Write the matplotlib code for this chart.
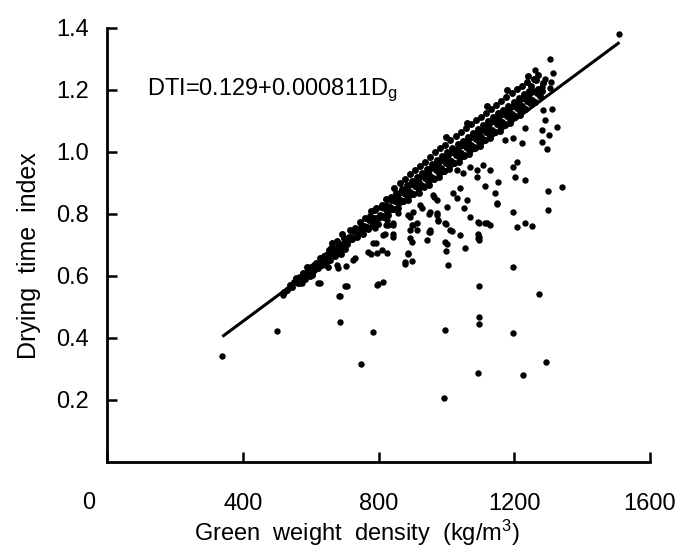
import matplotlib
matplotlib.use("Agg")
import matplotlib.pyplot as plt
from matplotlib.transforms import ScaledTranslation

plt.rcParams['font.family'] = ['Liberation Sans', 'DejaVu Sans']
plt.rcParams['mathtext.default'] = 'regular'

# ---- data ----
# dense band of points hugging the regression line (density, DTI)
band_pts = [
    (521, .549), (529, .556), (539, .571), (546, .563), (552, .581),
    (557, .593), (562, .577), (568, .598), (570, .598), (578, .609), (582, .591),
    (585, .609), (593, .618), (597, .601), (588, .628), (600, .629), (606, .615), (611, .637), (603, .604),
    (617, .643), (622, .625), (627, .659), (614, .621), (630, .654), (639, .665), (641, .643), (633, .634),
    (645, .668), (653, .684), (656, .652), (648, .648), (659, .689), (662, .674), (668, .687), (671, .663), (663, .705),
    (675, .691), (684, .700), (686, .678), (678, .713), (689, .671), (692, .703), (697, .721), (702, .687), (693, .734),
    (707, .715), (713, .727), (716, .749), (708, .702), (719, .725), (722, .722), (728, .745), (731, .755), (723, .718),
    (737, .738), (741, .749), (746, .774), (738, .725), (749, .757), (750, .751), (758, .762), (761, .786), (753, .737),
    (767, .757), (771, .781), (776, .793), (768, .753), (779, .809), (782, .775), (788, .787), (791, .812), (783, .762), (793, .818),
    (795, .788), (803, .797), (806, .822), (798, .769), (809, .830), (812, .795), (816, .818), (821, .828), (813, .791), (823, .849),
    (825, .811), (833, .822), (836, .846), (828, .797), (838, .856),
    (842, .817), (848, .841), (851, .853), (843, .815), (853, .868), (847, .884),
    (857, .835), (861, .847), (866, .871), (858, .819), (868, .882), (862, .899),
    (872, .842), (878, .865), (881, .877), (873, .841), (883, .895), (877, .914),
    (887, .858), (893, .872), (896, .896), (888, .845), (898, .907), (892, .929),
    (902, .865), (908, .891), (911, .903), (903, .863), (913, .920), (907, .942),
    (917, .883), (921, .897), (926, .921), (918, .869), (928, .933), (922, .956),
    (932, .889), (938, .915), (941, .928), (933, .888), (943, .946), (937, .969),
    (947, .908), (953, .922), (956, .948), (948, .895), (958, .960), (952, .984),
    (962, .915), (968, .941), (971, .955), (963, .913), (973, .973), (967, .999),
    (977, .933), (983, .947), (986, .974), (978, .919), (988, .987), (982, 1.012),
    (992, .939), (998, .965), (1001, .980), (993, .938), (1003, .999), (997, 1.024),
    (1007, .958), (1013, .972), (1016, .999), (1008, .945), (1018, 1.012), (1012, 1.039),
    (1022, .965), (1028, .991), (1031, 1.005), (1023, .963), (1033, 1.026), (1027, 1.052),
    (1037, .983), (1043, .997), (1046, 1.024), (1038, .969), (1048, 1.037), (1042, 1.064),
    (1052, .989), (1058, 1.015), (1061, 1.030), (1053, .988), (1063, 1.049), (1057, 1.076),
    (1067, 1.008), (1073, 1.022), (1076, 1.049), (1068, .995), (1078, 1.062), (1072, 1.089),
    (1082, 1.015), (1088, 1.041), (1091, 1.055), (1083, 1.013), (1093, 1.075), (1087, 1.102),
    (1097, 1.033), (1103, 1.047), (1106, 1.074), (1098, 1.019), (1108, 1.087), (1102, 1.114),
    (1112, 1.039), (1118, 1.065), (1121, 1.080), (1113, 1.038), (1123, 1.099), (1117, 1.126),
    (1127, 1.058), (1133, 1.072), (1136, 1.099), (1128, 1.045), (1138, 1.112), (1132, 1.139),
    (1142, 1.065), (1148, 1.091), (1151, 1.105), (1143, 1.063), (1153, 1.125), (1147, 1.152),
    (1157, 1.083), (1163, 1.097), (1166, 1.124), (1158, 1.069), (1168, 1.137), (1162, 1.164),
    (1172, 1.089), (1178, 1.115), (1181, 1.130), (1173, 1.088), (1183, 1.149), (1177, 1.176),
    (1187, 1.108), (1193, 1.122), (1196, 1.149), (1188, 1.095), (1198, 1.162), (1192, 1.189),
    (1202, 1.115), (1208, 1.141), (1211, 1.155), (1203, 1.113), (1213, 1.175), (1207, 1.202),
    (1217, 1.133), (1223, 1.147), (1226, 1.174), (1218, 1.119), (1228, 1.187), (1222, 1.214),
    (1232, 1.139), (1238, 1.165), (1241, 1.180), (1233, 1.138), (1243, 1.198), (1237, 1.225),
    (1247, 1.158), (1253, 1.169), (1256, 1.196), (1250, 1.213), (1258, 1.236),
    (1262, 1.162), (1268, 1.189), (1271, 1.203), (1265, 1.232),
    (1277, 1.180), (1283, 1.196), (1286, 1.224),
    (855, .860), (885, .885), (915, .910), (945, .935), (975, .962), (1005, .990),
    (1035, 1.012), (1065, 1.040), (1095, 1.062), (1125, 1.090), (1155, 1.115),
    (1185, 1.140), (1215, 1.165), (1245, 1.190), (1000, 1.050), (1060, 1.095),
    (1120, 1.150), (1180, 1.200), (1240, 1.245), (1270, 1.250),
]
band_d = [p[0] for p in band_pts]
band_y = [p[1] for p in band_pts]

# scattered points (mostly below the line)
scatter_d = [338, 502, 519, 569, 574, 622, 628, 652, 651, 686, 706, 686, 684, 701, 747, 784,
             797, 799, 813, 681, 704, 731, 777, 797, 824, 793, 812, 842, 843, 821,
             878, 887, 898, 898, 900, 913, 887, 927, 949, 948, 972, 975, 996, 1001,
             998, 1005, 996, 993, 1018, 1040, 1055, 1070, 1052, 1095, 1095, 1095,
             1094, 1096, 1096, 1096, 1114, 1128, 1149, 1195, 1197, 1195, 1207, 1232,
             1251, 1225, 1273, 1295, 1299, 1508, 1305, 1315, 1290, 1308, 1281, 1305,
             1310, 1290, 1325, 1281, 1302, 1281, 1296, 1300, 1340, 1261, 1285, 1232,
             1222, 1197, 1173, 1207, 1197, 1202, 1232, 1148, 1143, 1114, 1153, 1128,
             1109, 1089, 1089, 1070, 1050, 1030, 1040, 1030, 1060, 1094, 1119, 1001,
             971, 976, 1011, 996, 1094, 1094, 952, 952, 971, 961, 1020, 922, 902,
             893, 893, 913, 893, 888, 878, 844, 824, 844, 819, 785, 809, 770, 726,
             677, 942, 790, 829, 999, 952, 964, 903, 858]
scatter_y = [0.342, 0.423, 0.539, 0.577, 0.578, 0.578, 0.576, 0.630, 0.630, 0.535, 0.568, 0.453, 0.537, 0.569, 0.316, 0.420,
             0.571, 0.574, 0.581, 0.625, 0.632, 0.658, 0.671, 0.673, 0.675, 0.707, 0.732, 0.727, 0.765, 0.765,
             0.638, 0.671, 0.648, 0.711, 0.765, 0.748, 0.797, 0.819, 0.742, 0.800, 0.797, 0.778, 0.771, 0.703,
             0.682, 0.635, 0.426, 0.207, 0.746, 0.732, 0.690, 0.791, 0.819, 0.568, 0.467, 0.445,
             0.288, 0.772, 0.727, 0.716, 0.772, 0.765, 0.832, 0.806, 0.629, 0.416, 0.759, 0.772,
             0.761, 0.281, 0.542, 0.324, 0.813, 1.380, 1.300, 1.254, 1.234, 1.225, 1.211, 1.205,
             1.138, 1.103, 1.080, 1.071, 1.055, 1.033, 1.010, 0.875, 0.886, 1.265, 1.135, 1.076,
             1.028, 1.044, 1.039, 0.969, 0.953, 0.920, 0.910, 0.834, 0.867, 0.889, 0.904, 0.942,
             0.958, 0.942, 0.920, 0.953, 0.931, 0.942, 0.883, 0.851, 0.845, 0.775, 0.772, 0.824,
             0.802, 0.781, 0.748, 0.711, 0.737, 0.721, 0.748, 0.807, 0.845, 0.861, 0.867, 0.829, 0.807,
             0.791, 0.748, 0.770, 0.721, 0.673, 0.646, 0.770, 0.781, 0.737, 0.737, 0.705, 0.684, 0.678, 0.652,
             0.635, 0.716, 0.754, 0.765, 0.768, 0.743, 0.856, 0.765, 0.804]

# regression line DTI = 0.129 + 0.000811 Dg, drawn over the data range
line_d = [340, 1510]
line_y = [0.129 + 0.000811 * d for d in line_d]

x_ticks = [0, 400, 800, 1200, 1600]
x_ticklabels = ['', '400', '800', '1200', '1600']
y_ticks = [0.2, 0.4, 0.6, 0.8, 1.0, 1.2, 1.4]
y_ticklabels = ['0.2', '0.4', '0.6', '0.8', '1.0', '1.2', '1.4']

fig = plt.figure(figsize=(6.94, 5.5), dpi=100)
ax = fig.add_axes([107 / 694, 88 / 550, 543 / 694, 434 / 550])

ax.plot(band_d, band_y, 'o', color='black', ms=5.0, mew=0)
ax.plot(scatter_d, scatter_y, 'o', color='black', ms=4.6, mew=0)
ax.plot(line_d, line_y, '-', color='black', lw=2.2, solid_capstyle='butt')

ax.set_xlim(0, 1600)
ax.set_ylim(0, 1.4)
ax.set_xticks(x_ticks)
ax.set_xticklabels(x_ticklabels)
ax.set_yticks(y_ticks)
ax.set_yticklabels(y_ticklabels)

for s in ['top', 'right']:
    ax.spines[s].set_visible(False)
for s in ['left', 'bottom']:
    ax.spines[s].set_linewidth(2.0)

ax.tick_params(direction='in', length=7, width=1.8, labelsize=17, colors='black')
ax.tick_params(axis='y', pad=13)
ax.tick_params(axis='x', pad=22)

# the "0" at the origin sits left of the axis corner
ax.text(0, 0, '0', fontsize=17, ha='center', va='top',
        transform=ax.transData + ScaledTranslation(-0.18, -0.30, fig.dpi_scale_trans))

ax.set_xlabel('Green  weight  density  (kg/m$^3$)', fontsize=17)
ax.set_ylabel('Drying  time  index', fontsize=18)
ax.xaxis.set_label_coords(0.46, -0.128)
ax.yaxis.set_label_coords(-0.122, 0.475)

ax.text(118, 1.2, 'DTI=0.129+0.000811D$_g$', fontsize=17, va='center', ha='left')

fig.savefig('out.png', dpi=100)
